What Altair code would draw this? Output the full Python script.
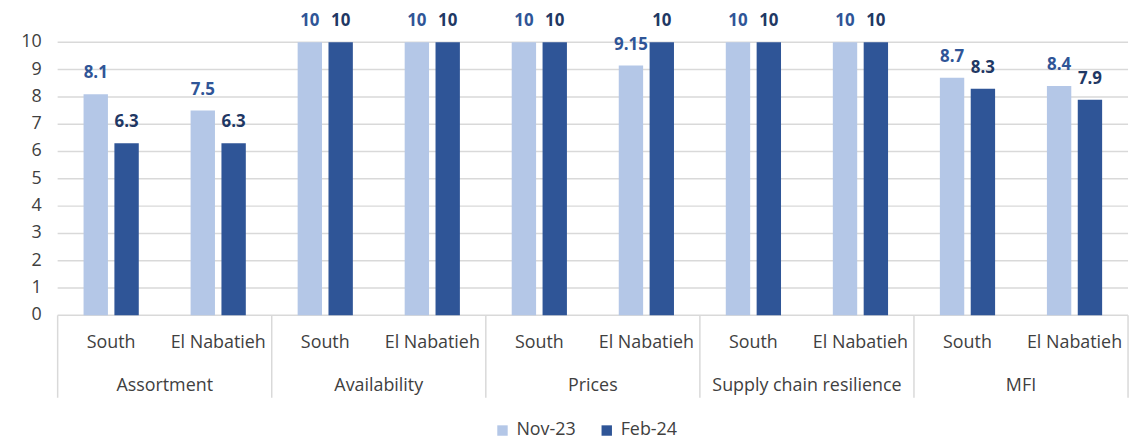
import altair as alt
import pandas as pd

groups = ["Assortment", "Availability", "Prices", "Supply chain resilience", "MFI"]
regions = ["South", "El Nabatieh"]
series = ["Nov-23", "Feb-24"]
nov23 = [8.1, 7.5, 10, 10, 10, 9.15, 10, 10, 8.7, 8.4]
feb24 = [6.3, 6.3, 10, 10, 10, 10, 10, 10, 8.3, 7.9]
y_ticks = [0, 1, 2, 3, 4, 5, 6, 7, 8, 9, 10]

FONT = "Open Sans"
LIGHT = "#B4C7E7"
DARK = "#2F5597"
NAVY = "#1F3864"
GRID = "#D9D9D9"
TXT = "#404040"

W, H = 1078, 275

slots = [f"{g}|{r}" for g in groups for r in regions]
rows = []
i = 0
for g in groups:
    for r in regions:
        rows.append({"slot": f"{g}|{r}", "group": g, "region": r, "series": "Nov-23", "value": nov23[i]})
        rows.append({"slot": f"{g}|{r}", "group": g, "region": r, "series": "Feb-24", "value": feb24[i]})
        i += 1
df = pd.DataFrame(rows)
reg_df = pd.DataFrame([{"slot": f"{g}|{r}", "region": r} for g in groups for r in regions])
grp_df = pd.DataFrame([{"slot": f"{g}|{regions[0]}", "group": g} for g in groups])
end_df = pd.DataFrame([{"slot": slots[-1]}])
tick_df = pd.DataFrame({"value": y_ticks})

xscale = alt.Scale(domain=slots, paddingInner=0, paddingOuter=0)
xoff = alt.XOffset("series:N", scale=alt.Scale(domain=series, paddingInner=0.21, paddingOuter=0.84))
yscale = alt.Scale(domain=[0, 10], nice=False)
yenc = alt.Y("value:Q", scale=yscale, axis=None)

grid = alt.Chart(tick_df).mark_rule(color=GRID, strokeWidth=1.5).encode(
    y=yenc,
    x=alt.value(0),
    x2=alt.value(W),
)

ylabels = alt.Chart(tick_df).mark_text(font=FONT, fontSize=18, color=TXT, align="right",
                                       baseline="middle").encode(
    y=yenc,
    x=alt.value(-16),
    text=alt.Text("value:Q", format="d"),
)

base = alt.Chart(df)

bars = base.mark_bar().encode(
    x=alt.X("slot:N", scale=xscale, axis=None),
    xOffset=xoff,
    y=yenc,
    color=alt.Color("series:N", scale=alt.Scale(domain=series, range=[LIGHT, DARK]),
                    legend=alt.Legend(title=None, orient="none", direction="horizontal",
                                      legendX=439, legendY=382, symbolType="square", symbolSize=110,
                                      labelFontSize=18, labelFont=FONT, labelColor=TXT,
                                      columnPadding=22, labelOffset=5, padding=0,
                                      symbolStrokeWidth=0)),
)

def vlabels(s, col):
    return base.transform_filter(alt.datum.series == s).transform_calculate(
        lbl="'' + datum.value"
    ).mark_text(font=FONT, fontSize=17, fontWeight="bold", color=col, baseline="middle", dy=-21).encode(
        x=alt.X("slot:N", scale=xscale, axis=None),
        xOffset=xoff,
        y=yenc,
        text="lbl:N",
    )

reg_text = alt.Chart(reg_df).mark_text(font=FONT, fontSize=18, color=TXT, baseline="middle").encode(
    x=alt.X("slot:N", scale=xscale, axis=None),
    y=alt.value(303),
    text="region:N",
)

grp_text = alt.Chart(grp_df).mark_text(font=FONT, fontSize=18, color=TXT, baseline="middle").encode(
    x=alt.X("slot:N", scale=xscale, axis=None, bandPosition=1),
    y=alt.value(346),
    text="group:N",
)

sep = alt.Chart(grp_df).mark_rule(color=GRID, strokeWidth=1.5).encode(
    x=alt.X("slot:N", scale=xscale, axis=None, bandPosition=0),
    y=alt.value(H),
    y2=alt.value(358),
)

sep_end = alt.Chart(end_df).mark_rule(color=GRID, strokeWidth=1.5).encode(
    x=alt.X("slot:N", scale=xscale, axis=None, bandPosition=1),
    y=alt.value(H),
    y2=alt.value(358),
)

chart = alt.layer(
    grid, ylabels, bars, vlabels("Nov-23", DARK), vlabels("Feb-24", NAVY),
    reg_text, grp_text, sep, sep_end
).properties(
    width=W, height=H,
    autosize=alt.AutoSizeParams(type="none"),
    padding={"left": 50, "top": 33, "right": 6, "bottom": 124},
).configure_view(stroke=None)

chart.save("out.html", embed_options={"renderer": "svg", "actions": False})
